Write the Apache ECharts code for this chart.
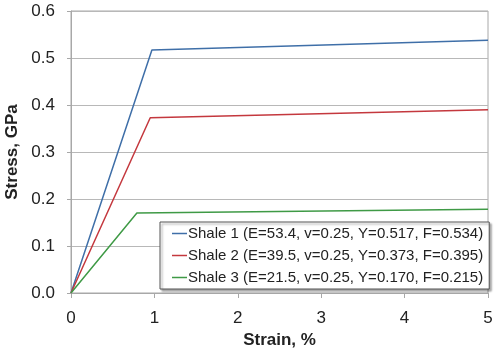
<!DOCTYPE html>
<html>
<head>
<meta charset="utf-8">
<script src="https://cdn.jsdelivr.net/npm/echarts@6/dist/echarts.min.js"></script>
<style>html,body{margin:0;padding:0;background:#fff}#c{width:500px;height:352px}</style>
</head>
<body>
<div id="c"></div>
<script>
const seriesNames = [
  "Shale 1 (E=53.4, v=0.25, Y=0.517, F=0.534)",
  "Shale 2 (E=39.5, v=0.25, Y=0.373, F=0.395)",
  "Shale 3 (E=21.5, v=0.25, Y=0.170, F=0.215)"
];
const shale1Strain = [0, 0.97, 5];
const shale1Stress = [0, 0.517, 0.538];
const shale2Strain = [0, 0.95, 5];
const shale2Stress = [0, 0.373, 0.390];
const shale3Strain = [0, 0.79, 5];
const shale3Stress = [0, 0.170, 0.178];
const xTicks = [0, 1, 2, 3, 4, 5];
const yTicks = [0.0, 0.1, 0.2, 0.3, 0.4, 0.5, 0.6];
const colors = ["#3f6fa8", "#c4383e", "#3f9a46"];

const pairs = (xs, ys) => xs.map((x, i) => [x, ys[i]]);
const data = [pairs(shale1Strain, shale1Stress), pairs(shale2Strain, shale2Stress), pairs(shale3Strain, shale3Stress)];

const chart = echarts.init(document.getElementById('c'), null, {renderer: 'canvas'});
const font = 'Liberation Sans, Arial, sans-serif';
chart.setOption({
  animation: false,
  backgroundColor: '#fff',
  grid: {left: 71, right: 12, top: 11, bottom: 59, outerBoundsMode: 'none', containLabel: false, show: true, borderColor: '#a8a8a8', borderWidth: 1, backgroundColor: 'transparent'},
  xAxis: {
    type: 'value', min: xTicks[0], max: xTicks[xTicks.length - 1], interval: 1,
    name: 'Strain, %', nameLocation: 'middle', nameGap: 39,
    nameTextStyle: {fontFamily: font, fontSize: 17, fontWeight: 'bold', color: '#222'},
    axisLine: {lineStyle: {color: '#a8a8a8'}},
    axisTick: {show: true, length: 5, lineStyle: {color: '#a8a8a8'}},
    axisLabel: {fontFamily: font, fontSize: 17, color: '#222', margin: 17},
    splitLine: {show: false}
  },
  yAxis: {
    type: 'value', min: yTicks[0], max: yTicks[yTicks.length - 1], interval: 0.1,
    name: 'Stress, GPa', nameLocation: 'middle', nameGap: 42,
    nameTextStyle: {fontFamily: font, fontSize: 17, fontWeight: 'bold', color: '#222'},
    axisLine: {show: true, lineStyle: {color: '#a8a8a8'}},
    axisTick: {show: true, length: 4, lineStyle: {color: '#a8a8a8'}},
    axisLabel: {fontFamily: font, fontSize: 17, color: '#222', margin: 16, formatter: v => v.toFixed(1)},
    splitLine: {show: true, lineStyle: {color: '#b8b8b8', width: 1}}
  },
  legend: {
    orient: 'vertical', left: 160, top: 222, width: 327, height: 64,
    padding: [4, 6, 4, 12],
    backgroundColor: '#fff', borderColor: '#555', borderWidth: 1,
    shadowColor: 'rgba(0,0,0,0.35)', shadowOffsetX: 2, shadowOffsetY: 2, shadowBlur: 2,
    icon: 'rect', itemWidth: 15, itemHeight: 1.5, itemGap: 7,
    textStyle: {fontFamily: font, fontSize: 15, color: '#222', padding: [0, 0, 0, -4], lineHeight: 15},
    data: seriesNames
  },
  series: data.map((d, i) => ({
    name: seriesNames[i], type: 'line', data: d, showSymbol: false, symbol: 'none',
    lineStyle: {color: colors[i], width: 1.5}, itemStyle: {color: colors[i]}
  }))
});
</script>
</body>
</html>
